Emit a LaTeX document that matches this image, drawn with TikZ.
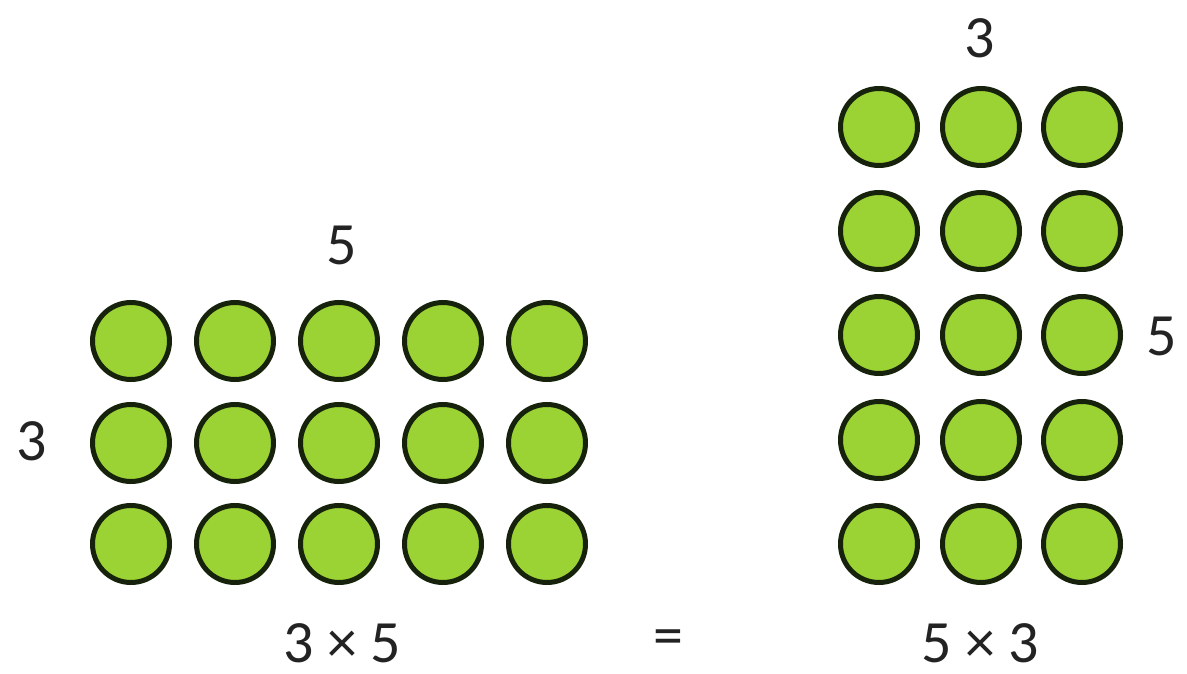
\documentclass[tikz,border=0pt]{standalone}
\usepackage{fontspec}
\setmainfont{Carlito}
\definecolor{dotfill}{RGB}{155,210,52}
\definecolor{dotline}{RGB}{22,34,12}
\definecolor{txt}{RGB}{35,35,35}
\begin{document}
\begin{tikzpicture}[x=1pt,y=-1pt,
  dot/.style={circle,draw=dotline,fill=dotfill,line width=5pt,minimum size=77pt,inner sep=0pt},
  lbl/.style={text=txt,font=\fontsize{60}{66}\selectfont,inner sep=0pt}]
\useasboundingbox[fill=white] (0,0) rectangle (1187,674);
% left grid 3 rows x 5 columns
\foreach \i/\y in {1/341,2/443,3/544}{
  \foreach \j/\x in {1/131,2/235,3/339,4/443,5/547}{
    \node[dot] (L-\i-\j) at (\x,\y) {};
  }
}
% right grid 5 rows x 3 columns
\foreach \i/\y in {1/127,2/231,3/335,4/440,5/544}{
  \foreach \j/\x in {1/879,2/981,3/1082}{
    \node[dot] (R-\i-\j) at (\x,\y) {};
  }
}
\node[lbl] (ltop) at (342,245) {5};
\node[lbl] (lside) at (32,441) {3};
\node[lbl] (rtop) at (980,38) {3};
\node[lbl] (rside) at (1162,336) {5};
\node[lbl] (lexpr) at (342,643) {3 × 5};
\node[lbl] (eq) at (668,643) {=};
\node[lbl] (rexpr) at (980,643) {5 × 3};
\end{tikzpicture}
\end{document}
